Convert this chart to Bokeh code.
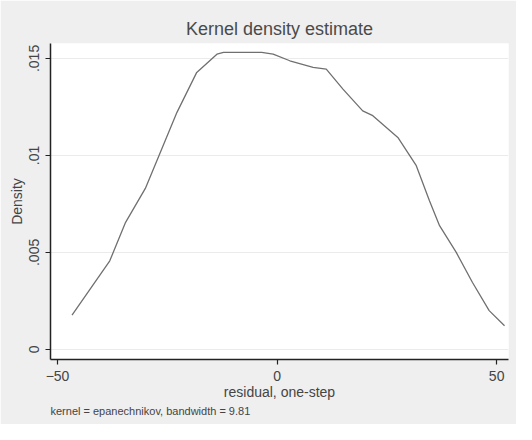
import math
from bokeh.plotting import figure
from bokeh.models import FixedTicker, Title, Range1d
from bokeh.embed import file_html
from bokeh.resources import INLINE

# residual values (x) and estimated density (y)
residual = [-46.7, -38.1, -34.5, -30.0, -26.6, -22.8, -18.3, -13.7, -12.2, -3.5,
            -0.9, 2.9, 8.2, 11.2, 15.0, 19.5, 21.8, 27.5, 31.7, 34.7,
            37.0, 40.8, 44.5, 48.3, 51.8]
density = [0.00177, 0.00457, 0.00655, 0.0083, 0.01015, 0.01222, 0.01428, 0.01522, 0.01531, 0.01531,
           0.01522, 0.01488, 0.01454, 0.01445, 0.01342, 0.0123, 0.01205, 0.01093, 0.00947, 0.00766,
           0.00638, 0.0050, 0.00345, 0.0020, 0.00122]

x_ticks = [-50, 0, 50]
y_ticks = [0, 0.005, 0.01, 0.015]
y_tick_labels = {0: "0", 0.005: ".005", 0.01: ".01", 0.015: ".015"}

FONT = "Liberation Sans"

p = figure(width=516, height=424, output_backend="svg", toolbar_location=None,
           x_range=Range1d(-51.6, 52.7), y_range=Range1d(-0.00052, 0.01577),
           min_border_left=50, min_border_right=8, min_border_top=43, min_border_bottom=65)

p.title.text = "Kernel density estimate"
p.title.align = "center"
p.title.text_font = FONT
p.title.text_font_size = "18px"
p.title.text_font_style = "normal"
p.title.text_color = "#4a4a4a"

p.line(residual, density, line_color="#707070", line_width=1.3)

p.background_fill_color = "white"
p.border_fill_color = "#efefef"
p.outline_line_color = None

p.xgrid.grid_line_color = None
p.ygrid.grid_line_color = "#ebebeb"
p.ygrid.ticker = FixedTicker(ticks=y_ticks)

for ax in (p.xaxis[0], p.yaxis[0]):
    ax.axis_line_color = "#222222"
    ax.axis_line_width = 1.5
    ax.major_tick_line_color = "#222222"
    ax.major_tick_line_width = 1.2
    ax.major_tick_in = 0
    ax.major_tick_out = 5
    ax.minor_tick_line_color = None
    ax.major_label_text_font = FONT
    ax.major_label_text_font_size = "14px"
    ax.major_label_text_color = "#444444"
    ax.axis_label_text_font = FONT
    ax.axis_label_text_font_size = "14px"
    ax.axis_label_text_font_style = "normal"
    ax.axis_label_text_color = "#444444"

p.xaxis.ticker = FixedTicker(ticks=x_ticks)
p.xaxis.axis_label = "residual, one-step"
p.xaxis.axis_label_standoff = 0
p.xaxis.major_label_standoff = 6

p.yaxis.ticker = FixedTicker(ticks=y_ticks)
p.yaxis.major_label_overrides = y_tick_labels
p.yaxis.major_label_orientation = "vertical"
p.yaxis.axis_label = "Density"
p.yaxis.axis_label_standoff = 2
p.yaxis.major_label_standoff = 6

note = Title(text="kernel = epanechnikov, bandwidth = 9.81", align="left",
             text_font=FONT, text_font_size="11px", text_font_style="normal",
             text_color="#444444", offset=0, standoff=0)
p.add_layout(note, "below")

open("out.html", "w").write(file_html(p, INLINE))
